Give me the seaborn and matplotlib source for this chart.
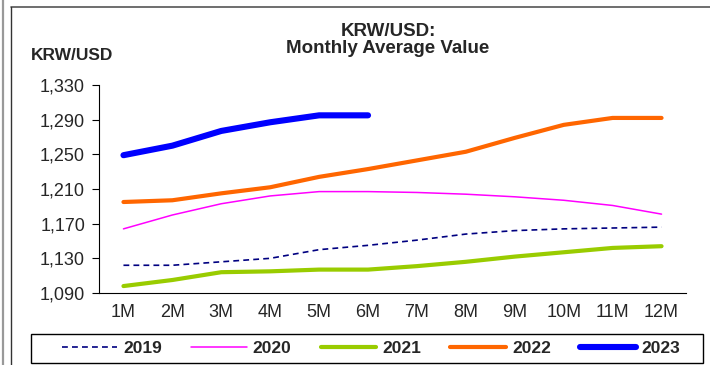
import matplotlib
matplotlib.use("Agg")
import matplotlib.pyplot as plt
from matplotlib.lines import Line2D
from matplotlib.patches import Rectangle
import seaborn as sns
import pandas as pd
import numpy as np

months = ["1M", "2M", "3M", "4M", "5M", "6M", "7M", "8M", "9M", "10M", "11M", "12M"]
krw_2019 = [1122, 1122, 1126, 1130, 1140, 1145, 1151, 1158, 1162, 1164, 1165, 1166]
krw_2020 = [1164, 1180, 1193, 1202, 1207, 1207, 1206, 1204, 1201, 1197, 1191, 1181]
krw_2021 = [1098, 1105, 1114, 1115, 1117, 1117, 1121, 1126, 1132, 1137, 1142, 1144]
krw_2022 = [1195, 1197, 1205, 1212, 1224, 1233, 1243, 1253, 1269, 1284, 1292, 1292]
krw_2023 = [1249, 1260, 1277, 1287, 1295, 1295]
y_ticks = [1090, 1130, 1170, 1210, 1250, 1290, 1330]

sns.set_theme(style="white")
plt.rcParams["font.family"] = ["Liberation Sans", "DejaVu Sans"]

series = {
    "2019": (krw_2019, "#000080", 1.2, (0, (3.5, 2.5))),
    "2020": (krw_2020, "#FF00FF", 1.1, "-"),
    "2021": (krw_2021, "#99CC00", 3.0, "-"),
    "2022": (krw_2022, "#FF6600", 3.0, "-"),
    "2023": (krw_2023, "#0000FF", 4.4, "-"),
}

fig = plt.figure(figsize=(7.1, 3.65), dpi=100)
ax = fig.add_axes([99 / 710, 1 - 293 / 365, (686 - 99) / 710, (293 - 85) / 365])

handles = []
for name, (vals, color, lw, ls) in series.items():
    df = pd.DataFrame({"x": np.arange(len(vals)) + 0.5, "v": vals})
    sns.lineplot(data=df, x="x", y="v", ax=ax, color=color, linewidth=lw,
                 linestyle=ls, solid_capstyle="round", dash_capstyle="butt")
    handles.append(Line2D([0], [0], color=color, lw=lw, linestyle=ls,
                          solid_capstyle="round", label=name))

ax.set_xlim(0, 12)
ax.set_ylim(1090, 1330)
ax.set_yticks(y_ticks)
ax.set_yticklabels([f"{v:,}" for v in y_ticks], fontsize=13)
ax.set_xticks(np.arange(0, 13))
ax.set_xticklabels([])
ax.set_xticks(np.arange(12) + 0.5, minor=True)
ax.set_xticklabels(months, minor=True, fontsize=13)
ax.tick_params(axis="x", which="major", direction="in", length=5, width=0.8, color="black")
ax.tick_params(axis="x", which="minor", length=0, pad=8)
ax.tick_params(axis="y", which="major", direction="out", length=5, width=0.8,
               color="black", left=True, pad=5)
ax.set_xlabel("")
ax.set_ylabel("")
for side in ["top", "right"]:
    ax.spines[side].set_visible(False)
for side in ["left", "bottom"]:
    ax.spines[side].set_color("black")
    ax.spines[side].set_linewidth(0.8)

fig.text(388 / 710, 1 - 40 / 365, "KRW/USD:\nMonthly Average Value", ha="center",
         va="center", fontsize=13.5, fontweight="bold", linespacing=1.05)
fig.text(72 / 710, 1 - 55 / 365, "KRW/USD", ha="center", va="center",
         fontsize=12.5, fontweight="bold")

# legend box
fig.add_artist(Rectangle((31 / 710, 1 - 363 / 365), (703 - 31) / 710, 29 / 365,
                         transform=fig.transFigure, facecolor="white",
                         edgecolor="black", lw=1.0))
fig.legend(handles=handles, loc="center", ncol=5,
           bbox_to_anchor=(371 / 710, 1 - 348.5 / 365),
           frameon=False, handlelength=3.2, handletextpad=0.35, columnspacing=1.68,
           borderaxespad=0, borderpad=0, prop={"weight": "bold", "size": 12.5})

# outer frame lines
fig.add_artist(Line2D([11 / 710, 1], [1 - 7 / 365, 1 - 7 / 365], color="#555555", lw=1.2))
fig.add_artist(Line2D([11 / 710, 11 / 710], [0, 1 - 7 / 365], color="#333333", lw=1.0))
fig.add_artist(Line2D([2.5 / 710, 2.5 / 710], [0, 1], color="#999999", lw=1.6))

fig.savefig("out.png", dpi=100)
